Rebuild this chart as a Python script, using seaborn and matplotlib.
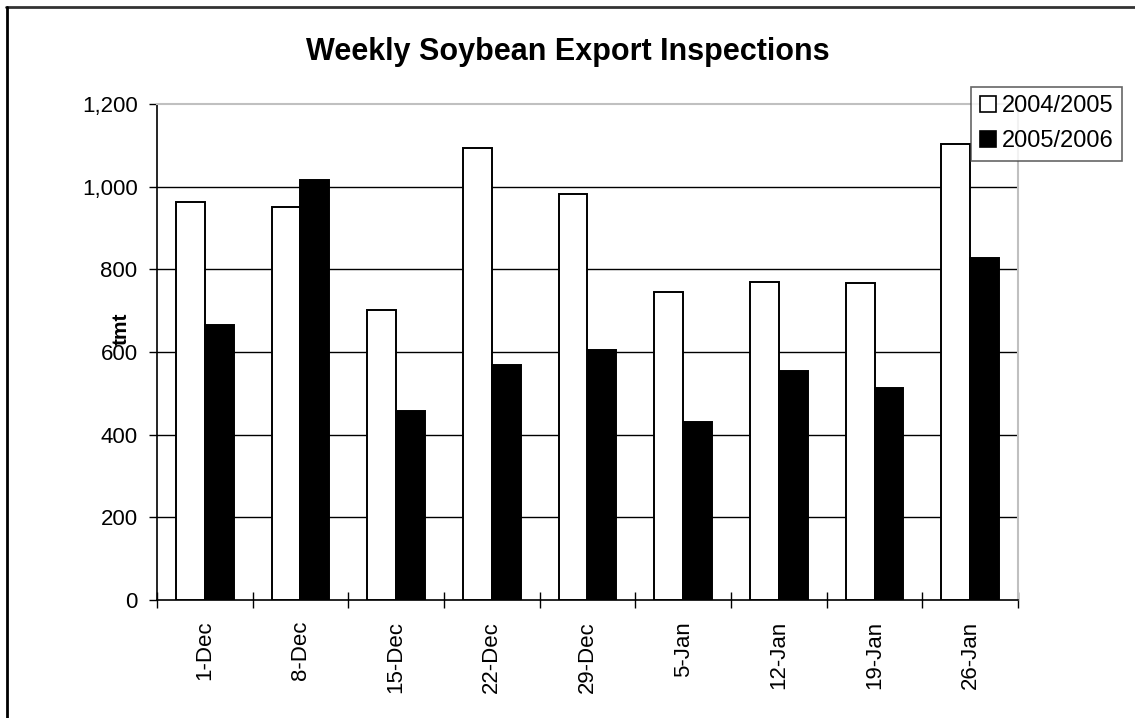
import numpy as np
import pandas as pd
import seaborn as sns
import matplotlib.pyplot as plt
from matplotlib.ticker import FuncFormatter, FixedLocator
from matplotlib.lines import Line2D

# --- Data ---
weeks = ["1-Dec", "8-Dec", "15-Dec", "22-Dec", "29-Dec", "5-Jan", "12-Jan", "19-Jan", "26-Jan"]
seasons = ["2004/2005", "2005/2006"]
vals_0405 = [964, 950, 701, 1094, 983, 744, 770, 766, 1103]
vals_0506 = [665, 1016, 458, 568, 605, 430, 555, 513, 827]

df = pd.DataFrame({
    "Week": weeks * 2,
    "Season": [seasons[0]] * len(weeks) + [seasons[1]] * len(weeks),
    "tmt": vals_0405 + vals_0506,
})

sns.set_style("white")
plt.rcParams["font.family"] = ["Liberation Sans", "DejaVu Sans"]
for k in ["text.color", "axes.labelcolor", "xtick.color", "ytick.color"]:
    plt.rcParams[k] = "black"

fig = plt.figure(figsize=(11.35, 7.18), dpi=100)
ax = fig.add_axes([157 / 1135, 1 - 600 / 718, (1018 - 157) / 1135, (600 - 104) / 718])

sns.barplot(data=df, x="Week", y="tmt", hue="Season", order=weeks, hue_order=seasons,
            palette=["white", "black"], edgecolor="black", linewidth=1.4,
            width=0.6, gap=0, saturation=1, ax=ax, zorder=3)

# --- Axes styling ---
ax.set_ylim(0, 1200)
ax.set_xlim(-0.5, len(weeks) - 0.5)
ax.set_yticks(np.arange(0, 1201, 200))
ax.yaxis.set_major_formatter(FuncFormatter(lambda v, p: f"{int(v):,}"))
ax.grid(axis="y", color="black", linewidth=1, zorder=0)
ax.set_axisbelow(True)
gl = ax.get_ygridlines()
gl[0].set_visible(False)
gl[-1].set_visible(False)

for s in ["left", "bottom"]:
    ax.spines[s].set_color("black")
    ax.spines[s].set_linewidth(1.2)
for s in ["top", "right"]:
    ax.spines[s].set_color("#c0c0c0")
    ax.spines[s].set_linewidth(1.5)

ax.tick_params(axis="y", which="major", direction="out", length=6, width=1, color="black",
               labelsize=16, left=True, pad=8)
ax.tick_params(axis="x", which="major", length=0, labelsize=16, pad=15)
ax.xaxis.set_minor_locator(FixedLocator(np.arange(-0.5, len(weeks), 1.0)))
ax.tick_params(axis="x", which="minor", direction="inout", length=11.5, width=1, color="black", bottom=True)
plt.setp(ax.get_xticklabels(), rotation=90)

ax.set_xlabel("")
ax.set_ylabel("")
fig.text(121 / 1135, 1 - 329 / 718, "tmt", rotation=90, ha="center", va="center",
         fontsize=15, fontweight="bold")
fig.text(0.5, 1 - 52 / 718, "Weekly Soybean Export Inspections", ha="center", va="center",
         fontsize=22, fontweight="bold")

# --- Legend ---
ax.get_legend().remove()
handles = [Line2D([0], [0], marker="s", linestyle="none", markersize=11.5,
                  markerfacecolor=c, markeredgecolor="black", markeredgewidth=1.2)
           for c in ["white", "black"]]
leg = fig.legend(handles, seasons, loc="upper left", bbox_to_anchor=(971 / 1135, 1 - 87 / 718),
                 fontsize=17, frameon=True, fancybox=False, handlelength=0.7,
                 handletextpad=0.25, borderpad=0.35, labelspacing=0.55, borderaxespad=0)
leg.get_frame().set_edgecolor("#404040")
leg.get_frame().set_linewidth(1.2)
leg.set_zorder(10)

# --- Outer chart frame (top and left edges) ---
fig.add_artist(Line2D([6 / 1135, 1.0], [1 - 6.5 / 718, 1 - 6.5 / 718], color="#333333", linewidth=2))
fig.add_artist(Line2D([6.5 / 1135, 6.5 / 1135], [0, 1 - 6.5 / 718], color="black", linewidth=2))

fig.savefig("out.png", dpi=100)
